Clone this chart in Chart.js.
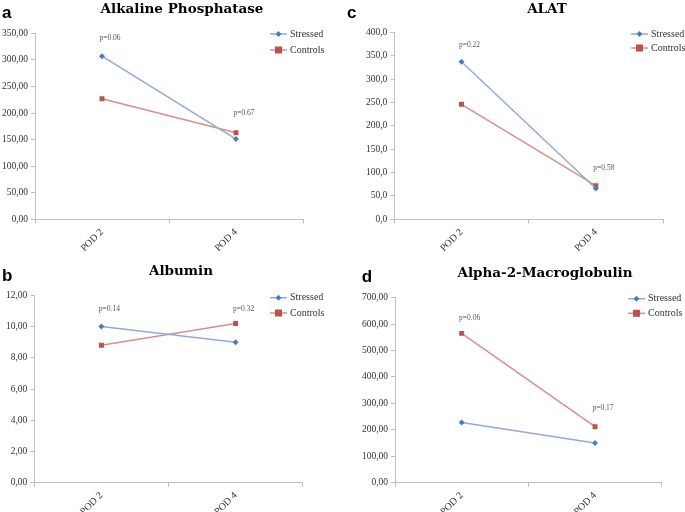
<!DOCTYPE html>
<html>
<head>
<meta charset="utf-8">
<script src="https://cdn.jsdelivr.net/npm/chart.js@4.4.1/dist/chart.umd.min.js"></script>
<style>
  html, body { margin: 0; padding: 0; background: #ffffff; }
  #wrap { position: relative; width: 685px; height: 512px; overflow: hidden; background: #fff; }
  canvas { position: absolute; }
</style>
</head>
<body>
<div id="wrap">
  <canvas id="cA" width="340" height="256" style="left:0px;top:0px"></canvas>
  <canvas id="cC" width="345" height="256" style="left:340px;top:0px"></canvas>
  <canvas id="cB" width="340" height="256" style="left:0px;top:256px"></canvas>
  <canvas id="cD" width="345" height="256" style="left:340px;top:256px"></canvas>
</div>
<script>
// ---- DATA ----
const categories = ['POD 2', 'POD 4'];
const seriesNames = ['Stressed', 'Controls'];

const alpStressed = [307, 151];
const alpControls = [227, 163];
const alpPLabels = ['p=0.06', 'p=0.67'];
const alpPAt = [341, 200];

const alatStressed = [337, 66];
const alatControls = [246, 72];
const alatPLabels = ['p=0.22', 'p=0.58'];
const alatPAt = [373, 110];

const albStressed = [10.0, 9.0];
const albControls = [8.8, 10.2];
const albPLabels = ['p=0.14', 'p=0.32'];
const albPAt = [11.15, 11.15];

const a2mStressed = [228, 150];
const a2mControls = [565, 212];
const a2mPLabels = ['p=0.06', 'p=0.17'];
const a2mPAt = [624, 282];

// ---- STYLE ----
const BLUE_M = '#4A7EBB', BLUE_L = '#8FAADC';
const RED_M = '#C0504D', RED_L = '#DA8E8C';
const AXIS = '#BFBFBF';
const SERIF = '"Liberation Serif", "Times New Roman", serif';

const decorPlugin = {
  id: 'decor',
  afterDraw(chart) {
    const o = chart.options.plugins.decor;
    const ctx = chart.ctx;
    ctx.save();
    // panel letter
    ctx.fillStyle = '#000';
    ctx.font = 'bold 17px "Liberation Sans", Arial, sans-serif';
    ctx.textAlign = 'left'; ctx.textBaseline = 'alphabetic';
    ctx.fillText(o.letter, o.letterX, o.letterY);
    // title
    ctx.font = 'bold 13.5px "DejaVu Serif", serif';
    ctx.textAlign = 'center'; ctx.textBaseline = 'middle';
    ctx.fillText(o.title, o.titleX, o.titleY);
    // p labels
    const xs = chart.scales.x, ys = chart.scales.y;
    ctx.font = '7.5px ' + SERIF;
    ctx.fillStyle = '#595959';
    o.pLabels.forEach((t, i) => {
      ctx.fillText(t, xs.getPixelForValue(i) + 8, ys.getPixelForValue(o.pAt[i]));
    });
    // legend
    ctx.font = '10px ' + SERIF;
    ctx.textAlign = 'left';
    chart.data.datasets.forEach((ds, i) => {
      const y = o.legY[i];
      ctx.strokeStyle = ds.borderColor; ctx.lineWidth = 1.5;
      ctx.beginPath(); ctx.moveTo(o.legX, y); ctx.lineTo(o.legX + 17, y); ctx.stroke();
      const cx = o.legX + 8.5;
      ctx.fillStyle = ds.pointBackgroundColor;
      if (ds.pointStyle === 'rect') {
        ctx.fillRect(cx - 3.5, y - 3.5, 7, 7);
      } else {
        ctx.beginPath(); ctx.moveTo(cx, y - 3); ctx.lineTo(cx + 3, y); ctx.lineTo(cx, y + 3); ctx.lineTo(cx - 3, y); ctx.closePath(); ctx.fill();
      }
      ctx.fillStyle = '#333';
      ctx.fillText(ds.label, o.legX + 20, y);
    });
    ctx.restore();
  }
};

function makePanel(id, stressed, controls, p) {
  const canvas = document.getElementById(id);
  const W = canvas.width, H = canvas.height;
  return new Chart(canvas, {
    type: 'line',
    data: {
      labels: categories,
      datasets: [
        { label: seriesNames[0], data: stressed, borderColor: BLUE_L, borderWidth: 1.5,
          pointStyle: 'rectRot', pointRadius: 3, pointBackgroundColor: BLUE_M, pointBorderColor: BLUE_M, pointBorderWidth: 0 },
        { label: seriesNames[1], data: controls, borderColor: RED_L, borderWidth: 1.5,
          pointStyle: 'rect', pointRadius: 3.5, pointBackgroundColor: RED_M, pointBorderColor: RED_M, pointBorderWidth: 0 }
      ]
    },
    options: {
      responsive: false, animation: false, devicePixelRatio: 1,
      layout: { padding: { top: p.top, right: W - p.right, left: 0, bottom: 0 } },
      plugins: {
        legend: { display: false }, tooltip: { enabled: false }, title: { display: false },
        decor: p.decor
      },
      scales: {
        x: {
          type: 'category', offset: true,
          grid: { display: true, drawOnChartArea: false, drawTicks: true, tickLength: 4, color: AXIS, offset: true },
          border: { display: true, color: AXIS, width: 1 },
          ticks: { minRotation: 45, maxRotation: 45, padding: 3, color: '#333', font: { family: SERIF, size: 10 } },
          afterFit: s => { s.height = H - p.bottom; }
        },
        y: {
          min: 0, max: p.max,
          grid: { display: true, drawOnChartArea: false, drawTicks: true, tickLength: 4, color: AXIS },
          border: { display: true, color: AXIS, width: 1 },
          ticks: { stepSize: p.step, padding: 3, color: '#333', font: { family: SERIF, size: 9.5 },
                   callback: v => v.toFixed(p.dec).replace('.', ',') },
          afterFit: s => { s.width = p.left; }
        }
      }
    },
    plugins: [decorPlugin]
  });
}

makePanel('cA', alpStressed, alpControls, {
  left: 35, right: 303, top: 33.3, bottom: 219.3, max: 350, step: 50, dec: 2,
  decor: { letter: 'a', letterX: 2, letterY: 18, title: 'Alkaline Phosphatase', titleX: 182, titleY: 9,
           pLabels: alpPLabels, pAt: alpPAt, legX: 270, legY: [34, 50] }
});
makePanel('cC', alatStressed, alatControls, {
  left: 54.3, right: 323, top: 32.3, bottom: 219.3, max: 400, step: 50, dec: 1,
  decor: { letter: 'c', letterX: 7, letterY: 18, title: 'ALAT', titleX: 207, titleY: 9,
           pLabels: alatPLabels, pAt: alatPAt, legX: 291, legY: [34, 48] }
});
makePanel('cB', albStressed, albControls, {
  left: 34.3, right: 302.7, top: 39.3, bottom: 226.7, max: 12, step: 2, dec: 2,
  decor: { letter: 'b', letterX: 2, letterY: 25, title: 'Albumin', titleX: 181, titleY: 15.5,
           pLabels: albPLabels, pAt: albPAt, legX: 270, legY: [41.7, 57] }
});
makePanel('cD', a2mStressed, a2mControls, {
  left: 55, right: 321.7, top: 41.7, bottom: 226.7, max: 700, step: 100, dec: 2,
  decor: { letter: 'd', letterX: 21.7, letterY: 26, title: 'Alpha-2-Macroglobulin', titleX: 205, titleY: 17.5,
           pLabels: a2mPLabels, pAt: a2mPAt, legX: 288, legY: [42.7, 57.3] }
});
</script>
</body>
</html>
